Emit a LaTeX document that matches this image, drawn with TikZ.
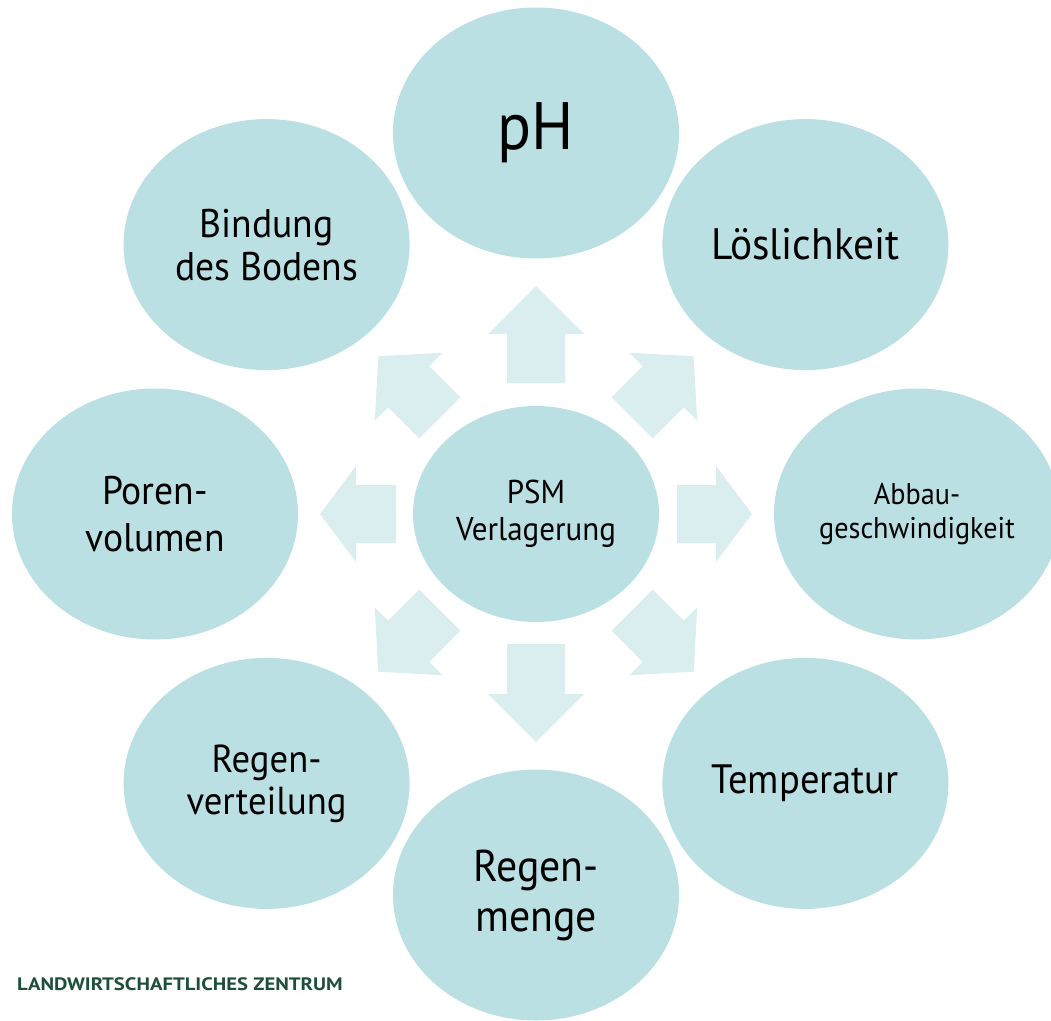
\documentclass[tikz,border=0pt]{standalone}
\usepackage{fontspec}
\setmainfont{PT Sans}[FakeStretch=0.94]
\newfontfamily\fussschrift{PT Sans}[FakeStretch=1.15]
\usetikzlibrary{shapes.geometric}

\definecolor{blasenfarbe}{HTML}{BAE0E3}
\definecolor{pfeilfarbe}{HTML}{DAEDEF}
\definecolor{lzgruen}{HTML}{1E4F3B}
\newcommand{\groesse}[2]{\fontsize{#1}{#2}\selectfont}

\begin{document}
\begin{tikzpicture}[
        x=1pt, y=1pt,
        % Äußere Blasen
        blase/.style={
            ellipse, fill=blasenfarbe, inner sep=0pt,
            minimum width=286pt, minimum height=251pt,
            align=center, text=black
        },
        % Blase in der Mitte
        kern/.style={
            ellipse, fill=blasenfarbe, inner sep=0pt,
            minimum width=246pt, minimum height=216pt,
            align=center, text=black, font=\groesse{33}{37}
        },
        % Pfeil von der Mitte nach außen
        pics/pfeil/.style 2 args={code={
            \fill[pfeilfarbe] (#1,-29) -- (180,-29) -- (180,-48) -- (#2,0)
                -- (180,48) -- (180,29) -- (#1,29) -- cycle;
        }},
        % Fußzeile
        fuss/.style={
            anchor=base west, inner sep=0pt, text=lzgruen,
            font=\fussschrift\groesse{18}{20}\bfseries
        }
    ]
        \useasboundingbox (-536,-506) rectangle (515,514);

        % Pfeile
        \pic[rotate=0]   {pfeil={141}{216}};
        \pic[rotate=45]  {pfeil={136}{223}};
        \pic[rotate=90]  {pfeil={131}{228}};
        \pic[rotate=135] {pfeil={136}{223}};
        \pic[rotate=180] {pfeil={140}{216}};
        \pic[rotate=225] {pfeil={136}{223}};
        \pic[rotate=270] {pfeil={130}{228}};
        \pic[rotate=315] {pfeil={136}{223}};

        % Mitte
        \node [kern] (psm) at (0,0) {PSM\\Verlagerung};

        % Einflussgrößen
        \node [blase, font=\groesse{67}{90}] (ph) at (90:381) {pH};
        \node [blase, font=\groesse{44}{54}] (loes) at (45:381) {Löslichkeit};
        \node [blase, font=\groesse{30}{34}] (abbau) at (0:381) {Abbau-\\geschwindigkeit};
        \node [blase, font=\groesse{41}{48}] (temp) at (-45:381) {Temperatur};
        \node [blase, font=\groesse{44.5}{50}] (menge) at (-90:381) {Regen-\\menge};
        \node [blase, font=\groesse{39}{42}] (vert) at (-135:381) {Regen-\\verteilung};
        \node [blase, font=\groesse{40}{47}] (poren) at (180:381) {Poren-\\volumen};
        \node [blase, font=\groesse{40}{43}] (bind) at (135:381) {Bindung\\des Bodens};

        % Fußzeile
        \node [fuss] (lz) at (-519,-476) {LANDWIRTSCHAFTLICHES ZENTRUM};

    \end{tikzpicture}
\end{document}
